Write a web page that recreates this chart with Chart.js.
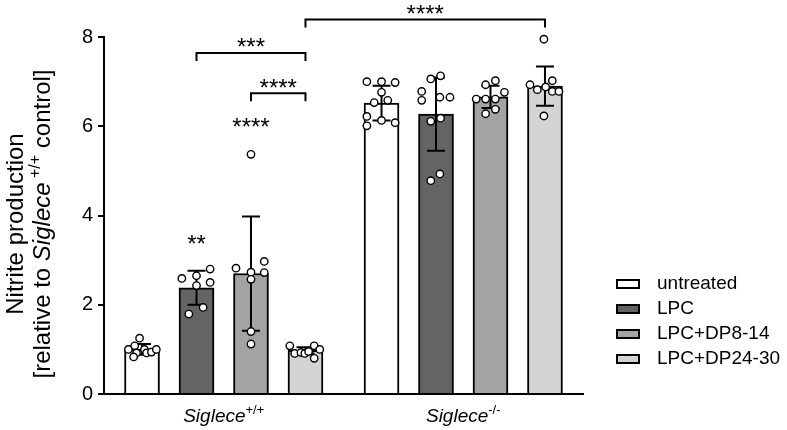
<!DOCTYPE html>
<html>
<head>
<meta charset="utf-8">
<script src="https://cdn.jsdelivr.net/npm/chart.js@4.4.0/dist/chart.umd.min.js"></script>
<style>
  html, body { margin: 0; padding: 0; background: #fff; }
  #wrap { width: 787px; height: 430px; }
</style>
</head>
<body>
<div id="wrap"><canvas id="chart" width="787" height="430"></canvas></div>
<script>
/* -----------------------
   Data
   ----------------------- */
const groupNames = ['Siglece', 'Siglece'];
const groupSup = ['+/+', '-/-'];
const treatments = ['untreated', 'LPC', 'LPC+DP8-14', 'LPC+DP24-30'];
const barColors = ['#ffffff', '#646464', '#a3a3a3', '#d4d4d4'];

// mean and SD per treatment: [Siglece+/+, Siglece-/-]
const means = [
  [1.00, 6.52],
  [2.38, 6.27],
  [2.70, 6.66],
  [0.98, 6.90]
];
const sds = [
  [0.12, 0.39],
  [0.38, 0.82],
  [1.28, 0.25],
  [0.07, 0.44]
];

// individual replicates per treatment, per genotype
const valsUntreated = [
  [1.25, 1.00, 1.08, 0.92, 1.00, 0.92, 0.94, 1.00, 0.83],
  [7.00, 7.00, 6.98, 6.76, 6.53, 6.58, 6.22, 6.13, 6.08, 6.01]
];
const valsLPC = [
  [2.59, 2.65, 2.80, 2.43, 2.50, 1.79, 1.94],
  [6.78, 6.58, 7.06, 7.13, 6.65, 6.65, 6.11, 6.18, 4.93, 4.78]
];
const valsDP8 = [
  [5.37, 2.82, 2.73, 2.97, 2.72, 2.57, 1.40, 1.12],
  [6.93, 7.02, 6.61, 6.61, 6.61, 6.76, 6.28, 6.38]
];
const valsDP24 = [
  [1.08, 0.91, 0.93, 0.91, 0.95, 1.08, 1.00, 0.80],
  [7.95, 6.93, 7.02, 6.82, 6.88, 6.78, 6.78, 6.23]
];
// horizontal scatter of each replicate, as a fraction of the bar width
const jitUntreated = [
  [-0.07, -0.39, -0.21, -0.16, 0.07, 0.13, 0.27, 0.41, -0.24],
  [-0.42, 0, 0.39, 0, -0.21, 0.18, -0.42, 0, 0.39, -0.42]
];
const jitLPC = [
  [-0.42, 0, 0.39, 0, 0.39, -0.22, 0.19],
  [-0.41, -0.41, -0.15, 0.13, 0.11, 0.40, -0.15, 0.13, 0.11, -0.15]
];
const jitDP8 = [
  [0, -0.43, 0, 0.38, 0.38, 0, 0, 0],
  [-0.14, 0.14, -0.41, -0.14, 0.14, 0.40, -0.14, 0.14]
];
const jitDP24 = [
  [-0.45, -0.31, -0.13, -0.02, 0.09, 0.25, 0.41, 0.25],
  [-0.03, -0.43, 0.21, -0.22, 0.02, 0.21, 0.40, -0.03]
];

// significance: [group, treatment] pairs, bracket height in data units
const brackets = [
  { from: [0, 1], to: [0, 3], y: 7.64, label: '***' },
  { from: [0, 2], to: [0, 3], y: 6.74, label: '****' },
  { from: [0, 3], to: [1, 3], y: 8.39, label: '****' }
];
const starLabels = [
  { at: [0, 1], y: 3.49, label: '**' },
  { at: [0, 2], y: 6.11, label: '****' }
];

const yTicksMax = 8;
const yTicksStep = 2;

/* -----------------------
   Setup
   ----------------------- */
const FONT = '"Liberation Sans", Arial, Helvetica, sans-serif';
const GROUP_SPAN = 0.91;                 // share of a group slot used by its bars
const slot = GROUP_SPAN / treatments.length;
const BAR_FRAC = 0.64;                   // bar width relative to its slot
const barW = slot * BAR_FRAC;

const allVals = [valsUntreated, valsLPC, valsDP8, valsDP24];
const allJit = [jitUntreated, jitLPC, jitDP8, jitDP24];
const slotX = (g, k) => g + (k - 1.5) * slot;

const barSets = treatments.map((t, k) => ({
  type: 'bar',
  label: t,
  data: means[k].map((m, g) => ({ x: slotX(g, k), y: m })),
  backgroundColor: barColors[k],
  borderColor: '#000',
  borderWidth: 2,
  barThickness: 35,
  grouped: false,
  order: 2
}));

const pointSets = treatments.map((t, k) => {
  const pts = [];
  allVals[k].forEach((arr, g) => {
    arr.forEach((v, i) => {
      pts.push({ x: slotX(g, k) + allJit[k][g][i] * barW, y: v });
    });
  });
  return {
    type: 'scatter',
    label: t + ' (replicates)',
    data: pts,
    clip: false,
    pointRadius: 3.7,
    pointBorderWidth: 1.4,
    pointBackgroundColor: '#fff',
    pointBorderColor: '#000',
    order: 1
  };
});

/* error bars, drawn right after each bar dataset */
const errorBars = {
  id: 'errorBars',
  afterDatasetDraw(chart, args) {
    if (args.meta.type !== 'bar') return;
    const k = args.index;
    const y = chart.scales.y;
    const ctx = chart.ctx;
    ctx.save();
    ctx.strokeStyle = '#000';
    ctx.lineWidth = 2;
    args.meta.data.forEach((bar, g) => {
      const top = y.getPixelForValue(means[k][g] + sds[k][g]);
      const bot = y.getPixelForValue(means[k][g] - sds[k][g]);
      ctx.beginPath();
      ctx.moveTo(bar.x, top); ctx.lineTo(bar.x, bot);
      ctx.moveTo(bar.x - 9, top); ctx.lineTo(bar.x + 9, top);
      ctx.moveTo(bar.x - 9, bot); ctx.lineTo(bar.x + 9, bot);
      ctx.stroke();
    });
    ctx.restore();
  }
};

function drawRich(ctx, parts, cx, cy) {
  let total = 0;
  parts.forEach(p => { ctx.font = p.font; p.w = ctx.measureText(p.text).width; total += p.w; });
  let x = cx - total / 2;
  parts.forEach(p => {
    ctx.font = p.font;
    ctx.fillText(p.text, x, cy + (p.dy || 0));
    x += p.w;
  });
}

function drawStars(ctx, label, cx, inkCenter) {
  ctx.font = '24px ' + FONT;
  ctx.textAlign = 'center';
  ctx.fillText(label, cx, inkCenter + 13.8);
}

/* brackets, labels, axis titles, legend */
const annotations = {
  id: 'annotations',
  afterDraw(chart) {
    const ctx = chart.ctx;
    const y = chart.scales.y;
    const area = chart.chartArea;
    const barX = (g, k) => chart.getDatasetMeta(k).data[g].x;
    ctx.save();
    ctx.fillStyle = '#000';
    ctx.strokeStyle = '#000';
    ctx.lineWidth = 2;
    ctx.textBaseline = 'alphabetic';

    brackets.forEach(b => {
      const x1 = barX(b.from[0], b.from[1]);
      const x2 = barX(b.to[0], b.to[1]);
      const py = y.getPixelForValue(b.y);
      ctx.beginPath();
      ctx.moveTo(x1, py + 8); ctx.lineTo(x1, py); ctx.lineTo(x2, py); ctx.lineTo(x2, py + 8);
      ctx.stroke();
      drawStars(ctx, b.label, (x1 + x2) / 2, py - 11.5);
    });
    starLabels.forEach(s => {
      drawStars(ctx, s.label, barX(s.at[0], s.at[1]), y.getPixelForValue(s.y));
    });

    // x group labels
    ctx.textAlign = 'left';
    groupNames.forEach((name, g) => {
      const cx = (barX(g, 1) + barX(g, 2)) / 2;
      drawRich(ctx, [
        { text: name, font: 'italic 19px ' + FONT },
        { text: groupSup[g], font: '13px ' + FONT, dy: -8 }
      ], cx, area.bottom + 27.7);
    });

    // y title
    const cy = 224;
    ctx.save();
    ctx.translate(22.7, cy);
    ctx.rotate(-Math.PI / 2);
    drawRich(ctx, [{ text: 'Nitrite production', font: '24px ' + FONT }], 0, 0);
    ctx.restore();
    ctx.save();
    ctx.translate(50, cy);
    ctx.rotate(-Math.PI / 2);
    drawRich(ctx, [
      { text: '[relative to ', font: '24px ' + FONT },
      { text: 'Siglece', font: 'italic 24px ' + FONT },
      { text: ' ' + groupSup[0], font: '16px ' + FONT, dy: -10 },
      { text: ' control]', font: '24px ' + FONT }
    ], 0, 0);
    ctx.restore();

    // legend
    ctx.textBaseline = 'middle';
    ctx.textAlign = 'left';
    ctx.font = '19px ' + FONT;
    chart.data.datasets.forEach((ds, i) => {
      if (ds.type !== 'bar') return;
      const ry = 284 + i * 25;
      ctx.fillStyle = ds.backgroundColor;
      ctx.fillRect(617, ry - 4, 22, 8);
      ctx.strokeRect(617, ry - 4, 22, 8);
      ctx.fillStyle = '#000';
      ctx.fillText(ds.label, 657, ry);
    });
    ctx.restore();
  }
};

new Chart(document.getElementById('chart'), {
  type: 'bar',
  data: {
    datasets: [...barSets, ...pointSets]
  },
  options: {
    responsive: false,
    animation: false,
    layout: { padding: { top: 37, right: 204, left: 0, bottom: 0 } },
    plugins: { legend: { display: false }, tooltip: { enabled: false } },
    scales: {
      x: {
        type: 'linear',
        min: -0.5,
        max: 1.5,
        offset: false,
        grid: { display: false },
        ticks: { display: false },
        border: { color: '#000', width: 2 },
        afterFit(s) { s.height = 36; }
      },
      y: {
        min: 0,
        max: yTicksMax,
        ticks: { stepSize: yTicksStep, color: '#000', font: { family: FONT, size: 20 }, padding: 5 },
        grid: { drawOnChartArea: false, color: '#000', lineWidth: 2, tickLength: 6 },
        border: { color: '#000', width: 2 },
        afterFit(s) { s.width = 104; }
      }
    }
  },
  plugins: [errorBars, annotations]
});
</script>
</body>
</html>
